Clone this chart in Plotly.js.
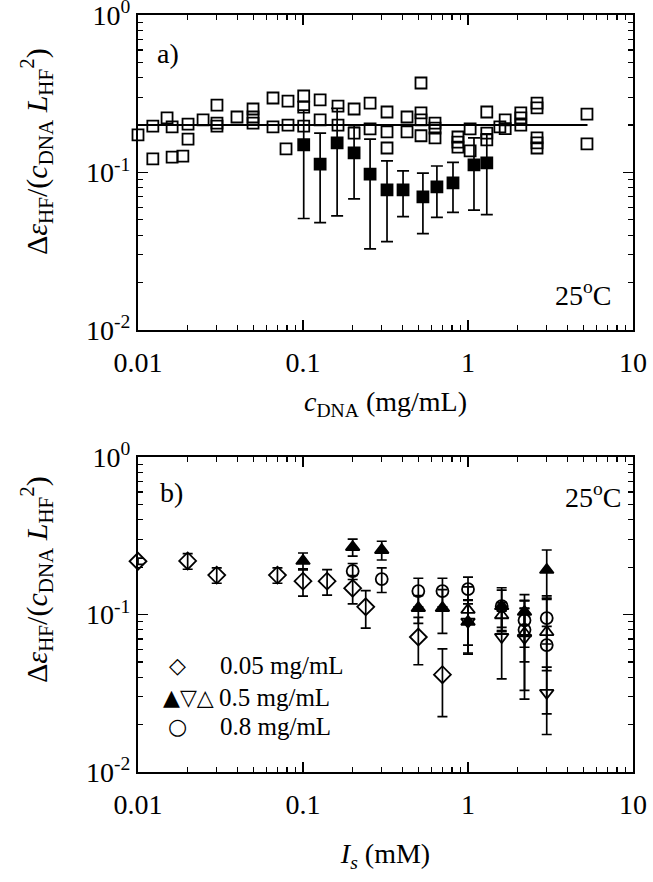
<!DOCTYPE html>
<html>
<head>
<meta charset="utf-8">
<script src="https://cdn.plot.ly/plotly-3.0.1.min.js"></script>
<style>
  body { margin: 0; background: #fff; }
  #chart { width: 653px; height: 882px; }
</style>
</head>
<body>
<div id="chart"></div>
<script>
// panel a: open squares (many samples), no error bars
var openSqX = [0.01, 0.0123, 0.0123, 0.015, 0.0161, 0.0161, 0.0201, 0.0201, 0.0187, 0.0248,
  0.0301, 0.0301, 0.0301, 0.0398, 0.0498, 0.0498, 0.0498, 0.0658, 0.0658, 0.0811,
  0.0811, 0.0789, 0.101, 0.101, 0.101, 0.127, 0.127, 0.163, 0.163, 0.204,
  0.204, 0.255, 0.255, 0.323, 0.323, 0.323, 0.427, 0.427, 0.519, 0.519,
  0.519, 0.519, 0.631, 0.631, 0.631, 0.869, 0.869, 0.869, 1.03, 1.03,
  1.3, 1.3, 1.3, 1.56, 1.68, 1.68, 2.09, 2.09, 2.09, 2.62,
  2.62, 2.62, 2.62, 2.62, 5.26, 5.26];
var openSqY = [0.173, 0.197, 0.122, 0.222, 0.195, 0.125, 0.203, 0.163, 0.127, 0.216,
  0.268, 0.206, 0.197, 0.225, 0.253, 0.225, 0.206, 0.297, 0.195, 0.284,
  0.2, 0.141, 0.306, 0.26, 0.197, 0.289, 0.216, 0.264, 0.2, 0.253,
  0.178, 0.276, 0.189, 0.242, 0.181, 0.143, 0.225, 0.181, 0.37, 0.239,
  0.216, 0.171, 0.206, 0.191, 0.166, 0.168, 0.156, 0.145, 0.189, 0.137,
  0.242, 0.178, 0.161, 0.195, 0.216, 0.19, 0.239, 0.222, 0.2, 0.276,
  0.257, 0.166, 0.154, 0.143, 0.235, 0.152];

// panel a: filled squares with error bars
var fillSqX = [0.101, 0.127, 0.161, 0.204, 0.255, 0.323, 0.404, 0.533, 0.648, 0.811, 1.087, 1.3];
var fillSqY = [0.150, 0.113, 0.154, 0.133, 0.0977, 0.0774, 0.0774, 0.0699, 0.0809, 0.0858, 0.1116, 0.115];
var fillSqErr = [0.099, 0.065, 0.101, 0.065, 0.065, 0.041, 0.025, 0.029, 0.029, 0.030, 0.054, 0.061];

// panel a: horizontal line
var fitX = [0.01, 5.3];
var fitY = [0.2, 0.2];

// panel b: 0.05 mg/mL (diamonds)
var diaX = [0.01, 0.02, 0.03, 0.07, 0.1, 0.14, 0.2, 0.24, 0.5, 0.7];
var diaY = [0.218, 0.219, 0.178, 0.178, 0.163, 0.163, 0.147, 0.112, 0.072, 0.0415];
var diaErr = [0.01, 0.025, 0.02, 0.02, 0.032, 0.03, 0.03, 0.03, 0.024, 0.019];

// panel b: 0.5 mg/mL (three symbols)
var triFX = [0.1, 0.2, 0.3, 0.5, 0.7, 1.0, 1.6, 2.2, 3.0];
var triFY = [0.219, 0.268, 0.257, 0.110, 0.110, 0.090, 0.113, 0.104, 0.192];
var triFErr = [0.027, 0.033, 0.035, 0.022, 0.034, 0.033, 0.035, 0.03, 0.065];

var triDX = [1.0, 1.6, 2.2, 3.0];
var triDY = [0.090, 0.072, 0.071, 0.0318];
var triDErr = [0.034, 0.033, 0.038, 0.0145];

var triUX = [1.0, 1.6, 2.2, 3.0];
var triUY = [0.107, 0.099, 0.076, 0.0774];
var triUErr = [0.043, 0.02, 0.047, 0.054];

// panel b: 0.8 mg/mL (circles)
var circX = [0.2, 0.3, 0.5, 0.7, 1.0, 1.6, 2.2, 2.2, 3.0, 3.0];
var circY = [0.189, 0.168, 0.141, 0.141, 0.145, 0.113, 0.092, 0.080, 0.095, 0.064];
var circErr = [0.022, 0.03, 0.029, 0.029, 0.028, 0.03, 0.03, 0.03, 0.03, 0.02];

var xTickVals = [0.01, 0.1, 1, 10];
var xTickText = ['0.01', '0.1', '1', '10'];
var yTickVals = [0.01, 0.1, 1];
var yTickText = ['10<sup>-2</sup>', '10<sup>-1</sup>', '10<sup>0</sup>'];

var yTitle = 'Δ<i>ε</i><sub>HF</sub>/(<i>c</i><sub>DNA</sub> <i>L</i><sub>HF</sub><sup>2</sup>)';

var serif = 'Liberation Serif, Times New Roman, serif';

function minorTicks(lo, hi) {
  var out = [];
  for (var k = lo; k < hi; k++)
    for (var m = 2; m <= 9; m++) out.push(m * Math.pow(10, k));
  return out;
}

function errs(arr, w) {
  return { type: 'data', array: arr, visible: true, color: 'black', thickness: 1.7, width: w };
}

function pts(x, y, sym, size, xa, ya, err, w) {
  var t = {
    x: x, y: y, xaxis: xa, yaxis: ya,
    mode: 'markers', type: 'scatter', cliponaxis: false,
    marker: { symbol: sym, size: size, color: 'black', line: { color: 'black', width: 1.8 } }
  };
  if (err) t.error_y = errs(err, w || 5);
  return t;
}

var data = [
  { x: fitX, y: fitY, mode: 'lines', type: 'scatter', line: { color: 'black', width: 2 }, xaxis: 'x', yaxis: 'y' },
  pts(openSqX, openSqY, 'square-open', 11, 'x', 'y'),
  pts(fillSqX, fillSqY, 'square', 11, 'x', 'y', fillSqErr, 6),
  pts(diaX, diaY, 'diamond-open', 13, 'x2', 'y2', diaErr),
  pts(triFX, triFY, 'triangle-up', 12, 'x2', 'y2', triFErr),
  pts(triDX, triDY, 'triangle-down-open', 12, 'x2', 'y2', triDErr),
  pts(triUX, triUY, 'triangle-up-open', 12, 'x2', 'y2', triUErr),
  pts(circX, circY, 'circle-open', 12, 'x2', 'y2', circErr)
];

function xaxisDef(anchor, title, standoff) {
  return {
    type: 'log', range: [-2, 1], anchor: anchor, domain: [0, 1],
    showline: true, linecolor: 'black', linewidth: 2, mirror: 'ticks',
    showgrid: false, zeroline: false,
    ticks: 'inside', ticklen: 10, tickwidth: 1.5, tickcolor: 'black',
    tickmode: 'array', tickvals: xTickVals, ticktext: xTickText,
    ticklabelstandoff: 6, ticklabeloverflow: 'allow',
    tickfont: { family: serif, size: 28, color: 'black' },
    minor: { tickmode: 'array', tickvals: minorTicks(-2, 1), ticks: 'inside', ticklen: 5, tickwidth: 1.2, tickcolor: 'black', showgrid: false },
    title: { text: title, font: { family: serif, size: 28, color: 'black' }, standoff: standoff }
  };
}

function yaxisDef(anchor, domain) {
  return {
    type: 'log', range: [-2, 0], anchor: anchor, domain: domain,
    showline: true, linecolor: 'black', linewidth: 2, mirror: 'ticks',
    showgrid: false, zeroline: false,
    ticks: 'inside', ticklen: 10, tickwidth: 1.5, tickcolor: 'black',
    tickmode: 'array', tickvals: yTickVals, ticktext: yTickText,
    ticklabeloverflow: 'allow',
    tickfont: { family: serif, size: 28, color: 'black' },
    minor: { tickmode: 'array', tickvals: minorTicks(-2, 0), ticks: 'inside', ticklen: 5, tickwidth: 1.2, tickcolor: 'black', showgrid: false }
  };
}

var txt = { family: serif, size: 28, color: 'black' };
var yTitleFont = { family: serif, size: 30, color: 'black' };
var legTxt = { family: serif, size: 25, color: 'black' };
var legSym = { family: 'DejaVu Sans', size: 22, color: 'black' };

var layout = {
  width: 653, height: 882,
  margin: { l: 138, r: 20, t: 15, b: 110 },
  paper_bgcolor: 'white', plot_bgcolor: 'white',
  showlegend: false,
  xaxis: xaxisDef('y', '<i>c</i><sub>DNA</sub> (mg/mL)', 15),
  yaxis: yaxisDef('x', [0.584, 1]),
  xaxis2: xaxisDef('y2', '<i>I<sub>s</sub></i> (mM)', 25),
  yaxis2: yaxisDef('x2', [0, 0.416]),
  annotations: [
    // y-axis titles (placed by hand, Plotly ignores standoff without automargin)
    { text: yTitle, textangle: -90, xref: 'paper', yref: 'y domain', x: -0.204, y: 0.565, xanchor: 'center', yanchor: 'middle', showarrow: false, font: yTitleFont },
    { text: yTitle, textangle: -90, xref: 'paper', yref: 'y2 domain', x: -0.204, y: 0.61, xanchor: 'center', yanchor: 'middle', showarrow: false, font: yTitleFont },
    { text: 'a)', xref: 'x domain', yref: 'y domain', x: 0.034, y: 0.879, xanchor: 'left', yanchor: 'middle', showarrow: false, font: txt },
    { text: '25<sup>o</sup>C', xref: 'x domain', yref: 'y domain', x: 0.96, y: 0.117, xanchor: 'right', yanchor: 'middle', showarrow: false, font: txt },
    { text: 'b)', xref: 'x2 domain', yref: 'y2 domain', x: 0.04, y: 0.886, xanchor: 'left', yanchor: 'middle', showarrow: false, font: txt },
    { text: '25<sup>o</sup>C', xref: 'x2 domain', yref: 'y2 domain', x: 0.98, y: 0.879, xanchor: 'right', yanchor: 'middle', showarrow: false, font: txt },
    { text: '◇', xref: 'x2 domain', yref: 'y2 domain', x: 0.079, y: 0.337, xanchor: 'center', yanchor: 'middle', showarrow: false, font: legSym },
    { text: '▲▽△', xref: 'x2 domain', yref: 'y2 domain', x: 0.103, y: 0.235, xanchor: 'center', yanchor: 'middle', showarrow: false, font: legSym },
    { text: '○', xref: 'x2 domain', yref: 'y2 domain', x: 0.079, y: 0.146, xanchor: 'center', yanchor: 'middle', showarrow: false, font: legSym },
    { text: '0.05 mg/mL', xref: 'x2 domain', yref: 'y2 domain', x: 0.162, y: 0.337, xanchor: 'left', yanchor: 'middle', showarrow: false, font: legTxt },
    { text: '0.5 mg/mL', xref: 'x2 domain', yref: 'y2 domain', x: 0.16, y: 0.235, xanchor: 'left', yanchor: 'middle', showarrow: false, font: legTxt },
    { text: '0.8 mg/mL', xref: 'x2 domain', yref: 'y2 domain', x: 0.162, y: 0.146, xanchor: 'left', yanchor: 'middle', showarrow: false, font: legTxt }
  ]
};

Plotly.newPlot('chart', data, layout, { staticPlot: true });
</script>
</body>
</html>
